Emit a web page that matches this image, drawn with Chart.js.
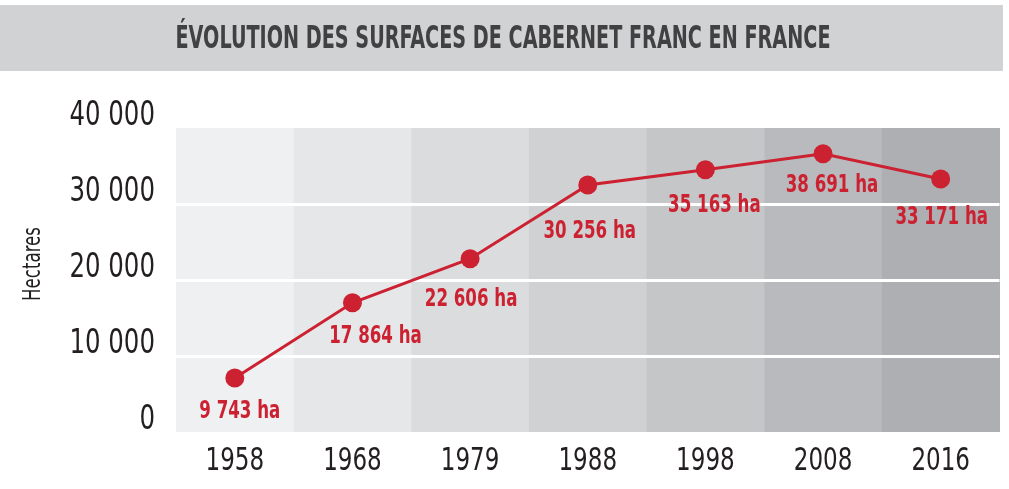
<!DOCTYPE html>
<html>
<head>
<meta charset="utf-8">
<script src="https://cdn.jsdelivr.net/npm/chart.js@4"></script>
<style>
  html, body { margin: 0; padding: 0; background: #fff; }
  canvas { display: block; }
</style>
</head>
<body>
<canvas id="chart" width="1009" height="489"></canvas>
<script>
const titleText = 'ÉVOLUTION DES SURFACES DE CABERNET FRANC EN FRANCE';
const axisTitle = 'Hectares';

const years = ['1958', '1968', '1979', '1988', '1998', '2008', '2016'];
// values as plotted in the picture
const hectares = [7100, 17000, 22800, 32500, 34500, 36600, 33300];
// annotations printed next to each point
const pointLabels = ['9 743 ha', '17 864 ha', '22 606 ha', '30 256 ha', '35 163 ha', '38 691 ha', '33 171 ha'];

// styling
const bandColors = ['#eff0f2', '#e6e7e9', '#dbdcde', '#d0d1d3', '#c5c6c8', '#b9babd', '#aeafb2'];
const labelNudge = [[5, 33], [23, 34], [1, 41], [2, 46], [9, 36], [9, 32], [1, 39]];
const red = '#cc2131';
const ink = '#231f20';
const narrow = '"DejaVu Sans Condensed", "Liberation Sans Narrow", sans-serif';

const fmt = (v) => String(v).replace(/\B(?=(\d{3})+(?!\d))/g, ' ');

// draw text squeezed horizontally (the original uses a very condensed face)
function squeezed(ctx, text, x, y, sx, align) {
  ctx.save();
  ctx.translate(x, y);
  ctx.scale(sx, 1);
  ctx.textAlign = align;
  ctx.fillText(text, 0, 0);
  ctx.restore();
}

const decor = {
  id: 'decor',
  beforeDraw(chart) {
    const {ctx, chartArea, scales} = chart;
    ctx.save();
    // title bar
    ctx.fillStyle = '#d1d2d4';
    ctx.fillRect(0, 5, 1003, 66);
    ctx.fillStyle = '#414042';
    ctx.font = 'bold 32px ' + narrow;
    ctx.textBaseline = 'middle';
    const w = ctx.measureText(titleText).width;
    squeezed(ctx, titleText, 503, 40, 655 / w, 'center');

    // shaded bands, one per category
    const step = chartArea.width / years.length;
    years.forEach((y, i) => {
      const cx = scales.x.getPixelForValue(i);
      ctx.fillStyle = bandColors[i];
      ctx.fillRect(cx - step / 2, chartArea.top, step + 0.5, chartArea.bottom - chartArea.top);
    });

    // y axis title
    ctx.fillStyle = ink;
    ctx.font = '24px ' + narrow;
    ctx.textAlign = 'center';
    ctx.textBaseline = 'middle';
    ctx.translate(34, 264);
    ctx.rotate(-Math.PI / 2);
    ctx.scale(0.77, 1);
    ctx.fillText(axisTitle, 0, 0);
    ctx.restore();
  },
  afterDraw(chart) {
    const {ctx, scales, chartArea} = chart;
    ctx.save();
    ctx.fillStyle = ink;
    ctx.textBaseline = 'middle';
    // y tick labels, sitting just above their grid line
    ctx.font = '34px ' + narrow;
    scales.y.ticks.forEach((t, i) => {
      squeezed(ctx, fmt(t.value), chartArea.left - 21, scales.y.getPixelForTick(i) - 12, 0.8, 'right');
    });
    // x tick labels
    ctx.font = '32px ' + narrow;
    scales.x.ticks.forEach((t, i) => {
      squeezed(ctx, years[t.value], scales.x.getPixelForTick(i), chartArea.bottom + 30, 0.8, 'center');
    });
    ctx.restore();
  },
  afterDatasetsDraw(chart) {
    const {ctx} = chart;
    const meta = chart.getDatasetMeta(0);
    ctx.save();
    ctx.fillStyle = red;
    ctx.font = 'bold 25px ' + narrow;
    ctx.textBaseline = 'middle';
    meta.data.forEach((pt, i) => {
      squeezed(ctx, pointLabels[i], pt.x + labelNudge[i][0], pt.y + labelNudge[i][1], 0.74, 'center');
    });
    ctx.restore();
  }
};

new Chart(document.getElementById('chart'), {
  type: 'line',
  data: {
    labels: years,
    datasets: [{
      data: hectares,
      borderColor: red,
      borderWidth: 3,
      backgroundColor: red,
      pointBackgroundColor: red,
      pointBorderWidth: 0,
      pointRadius: 9.5,
      tension: 0
    }]
  },
  options: {
    responsive: false,
    animation: false,
    layout: { padding: { top: 128, right: 2, left: 0, bottom: 0 } },
    plugins: {
      legend: { display: false },
      tooltip: { enabled: false }
    },
    scales: {
      x: {
        offset: true,
        border: { display: false },
        grid: { display: false, drawTicks: false },
        ticks: { display: false },
        afterFit: (s) => { s.height = 57; }
      },
      y: {
        min: 0,
        max: 40000,
        border: { display: false },
        grid: {
          drawTicks: false,
          lineWidth: 3,
          color: (c) => (c.tick && (c.tick.value === 0 || c.tick.value === 40000)) ? 'rgba(0,0,0,0)' : '#ffffff'
        },
        ticks: { display: false, stepSize: 10000 },
        afterFit: (s) => { s.width = 176; }
      }
    }
  },
  plugins: [decor]
});
</script>
</body>
</html>
